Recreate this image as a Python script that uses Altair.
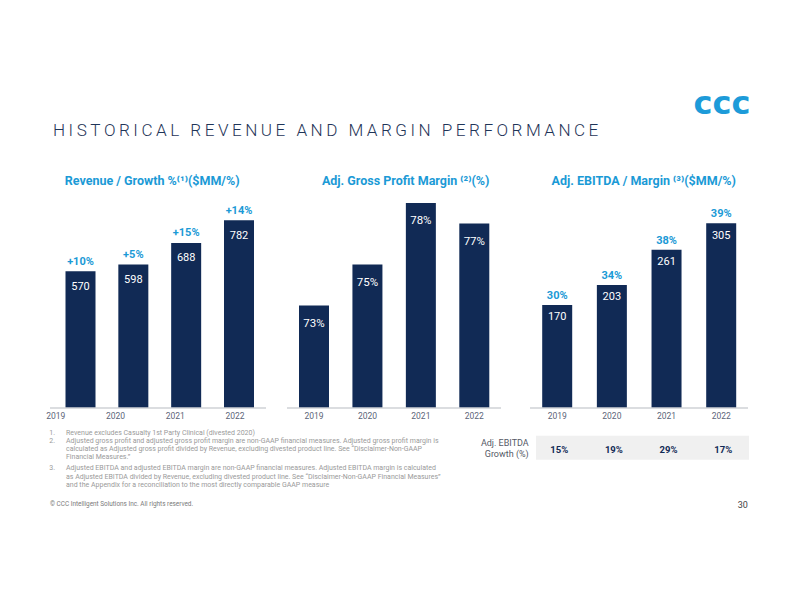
import altair as alt
import pandas as pd

# ---------------- data ----------------
years = ["2019", "2020", "2021", "2022"]
revenue = [570, 598, 688, 782]
revenue_growth = ["+10%", "+5%", "+15%", "+14%"]
gross_margin = [73, 75, 78, 77]
ebitda = [170, 203, 261, 305]
ebitda_margin = ["30%", "34%", "38%", "39%"]
ebitda_growth = ["15%", "19%", "29%", "17%"]

title_text = "HISTORICAL REVENUE AND MARGIN PERFORMANCE"
headers = [
    "Revenue / Growth %\u207d\u00b9\u207e($MM/%)",
    "Adj. Gross Profit Margin \u207d\u00b2\u207e(%)",
    "Adj. EBITDA / Margin \u207d\u00b3\u207e($MM/%)",
]
footnote_nums = ["1.", "2.", "3."]
footnote_lines = [
    "Revenue excludes Casualty 1st Party Clinical (divested 2020)",
    "Adjusted gross profit and adjusted gross profit margin are non-GAAP financial measures. Adjusted gross profit margin is",
    "calculated as Adjusted gross profit divided by Revenue, excluding divested product line. See \u201cDisclaimer-Non-GAAP",
    "Financial Measures.\u201d",
    "Adjusted EBITDA and adjusted EBITDA margin are non-GAAP financial measures. Adjusted EBITDA margin is calculated",
    "as Adjusted EBITDA divided by Revenue, excluding divested product line. See \u201cDisclaimer-Non-GAAP Financial Measures\u201d",
    "and the Appendix for a reconciliation to the most directly comparable GAAP measure",
]
copyright_text = "\u00a9 CCC Intelligent Solutions Inc. All rights reserved."
page_number = "30"

# ---------------- styles ----------------
NAVY = "#112a55"
BLUE = "#1b9ad6"
TITLE_C = "#1f3558"
GREY_AX = "#cfd2d6"
YEAR_C = "#5b6478"
FONT = "Roboto"

W, H = 776, 596
BASE = 400  # baseline in chart coordinates

df1 = pd.DataFrame({"year": years, "value": revenue, "label": revenue_growth})
df2 = pd.DataFrame({"year": years, "value": gross_margin,
                    "label": [f"{v}%" for v in gross_margin]})
df3 = pd.DataFrame({"year": years, "value": ebitda, "label": ebitda_margin,
                    "growth": ebitda_growth})

one = pd.DataFrame({"k": [0]})


def txt(text, x, y, size, color, weight="normal", align="left", font=FONT):
    return alt.Chart(one).mark_text(
        font=font, fontSize=size, color=color, fontWeight=weight,
        align=align, baseline="middle"
    ).encode(x=alt.value(x), y=alt.value(y), text=alt.value(text))


def rule(x1, x2, y):
    return alt.Chart(one).mark_rule(color=GREY_AX, strokeWidth=1.5).encode(
        x=alt.value(x1), x2=alt.value(x2), y=alt.value(y))


def panel(df, xr, ydom, yrange, base, val_dy, top_dy=None, top_field=None,
          val_field="value", val_size=11):
    xs = alt.Scale(type="point", domain=years, range=xr, padding=0)
    ys = alt.Scale(domain=ydom, range=yrange, nice=False, zero=False)
    X = alt.X("year:N", scale=xs, axis=None)
    Y = alt.Y("value:Q", scale=ys, axis=None)
    bars = alt.Chart(df).mark_bar(size=30, color=NAVY).encode(
        x=X, y=Y, y2=alt.datum(base))
    vals = alt.Chart(df).mark_text(
        font=FONT, fontSize=val_size, color="white", dy=val_dy,
        baseline="middle").encode(x=X, y=Y, text=alt.Text(f"{val_field}:N"))
    layers = [bars, vals]
    if top_field is not None:
        tops = alt.Chart(df).mark_text(
            font=FONT, fontSize=11, fontWeight="bold", color=BLUE, dy=top_dy,
            baseline="middle").encode(x=X, y=Y, text=alt.Text(f"{top_field}:N"))
        layers.append(tops)
    return alt.layer(*layers), xs


# panel 1 : revenue
df1["vtxt"] = df1["value"].astype(str)
p1, xs1 = panel(df1, [72.5, 231], [0, 1000], [BASE, BASE - 240], 0,
                val_dy=15.5, top_dy=-9.5, top_field="label", val_field="vtxt")
years1 = alt.Chart(df1).mark_text(
    font=FONT, fontSize=8.5, color=YEAR_C, baseline="middle").encode(
    x=alt.X("year:N", scale=alt.Scale(type="point", domain=years,
                                       range=[47.7, 227], padding=0), axis=None),
    y=alt.value(408), text="year:N")

# panel 2 : gross margin
p2, xs2 = panel(df2, [306, 466.3], [68, 78], [BASE, BASE - 205], 68,
                val_dy=18.3, val_field="label", val_size=11.5)
years2 = alt.Chart(df2).mark_text(
    font=FONT, fontSize=8.5, color=YEAR_C, baseline="middle").encode(
    x=alt.X("year:N", scale=xs2, axis=None), y=alt.value(408), text="year:N")

# panel 3 : EBITDA
df3["vtxt"] = df3["value"].astype(str)
p3, xs3 = panel(df3, [549.2, 713.2], [0, 400], [BASE, BASE - 242.4], 0,
                val_dy=12.5, top_dy=-9, top_field="label", val_field="vtxt")
X3 = alt.X("year:N", scale=xs3, axis=None)
years3 = alt.Chart(df3).mark_text(
    font=FONT, fontSize=8.5, color=YEAR_C, baseline="middle").encode(
    x=X3, y=alt.value(408), text="year:N")
band = alt.Chart(one).mark_rect(color="#f0f0f0").encode(
    x=alt.value(528), x2=alt.value(741), y=alt.value(427.7), y2=alt.value(451.7))
growth3 = alt.Chart(df3).mark_text(
    font=FONT, fontSize=9.5, fontWeight="bold", color=NAVY, dx=2,
    baseline="middle").encode(x=X3, y=alt.value(441.5), text="growth:N")
p3full = alt.layer(p3, years3, band, growth3)

# decorations (title letter-spaced with thin spaces)
spaced_title = "\u2009".join(title_text)
deco = [
    txt(spaced_title, 45, 123, 17.1, TITLE_C, weight=300),
    txt("ccc", 714, 96, 32, "#1d9bd9", weight="bold", align="center",
        font="DejaVu Sans"),
    txt(headers[0], 144.2, 173, 12.5, BLUE, weight="bold", align="center"),
    txt(headers[1], 397.7, 173, 12.5, BLUE, weight="bold", align="center"),
    txt(headers[2], 635.7, 173, 12.5, BLUE, weight="bold", align="center"),
    rule(42, 258, BASE),
    rule(279, 493, BASE),
    rule(522, 740, BASE),
    txt("Adj. EBITDA", 520.7, 435.3, 9, "#555a66", align="right"),
    txt("Growth (%)", 520.7, 446, 9, "#555a66", align="right"),
    txt(copyright_text, 42, 496, 6.4, "#7a7a7a"),
    txt(page_number, 734.7, 497, 9, "#444444", align="center"),
]
fn_y = [424.7, 432.7, 441.3, 449.3, 460.3, 468.7, 477]
num_idx = {0: 0, 1: 1, 4: 2}
for i, line in enumerate(footnote_lines):
    deco.append(txt(line, 58, fn_y[i], 7.0, "#9a9a9a"))
    if i in num_idx:
        deco.append(txt(footnote_nums[num_idx[i]], 41.3, fn_y[i], 7.0, "#9a9a9a"))

chart = alt.layer(p1, years1, p2, years2, p3full, *deco).resolve_scale(
    x="independent", y="independent"
).properties(
    width=W, height=H, padding=0,
    autosize=alt.AutoSizeParams(type="none"),
    background="white",
).configure_view(stroke=None)

chart.save("out.html", embed_options={"renderer": "svg", "actions": False})
